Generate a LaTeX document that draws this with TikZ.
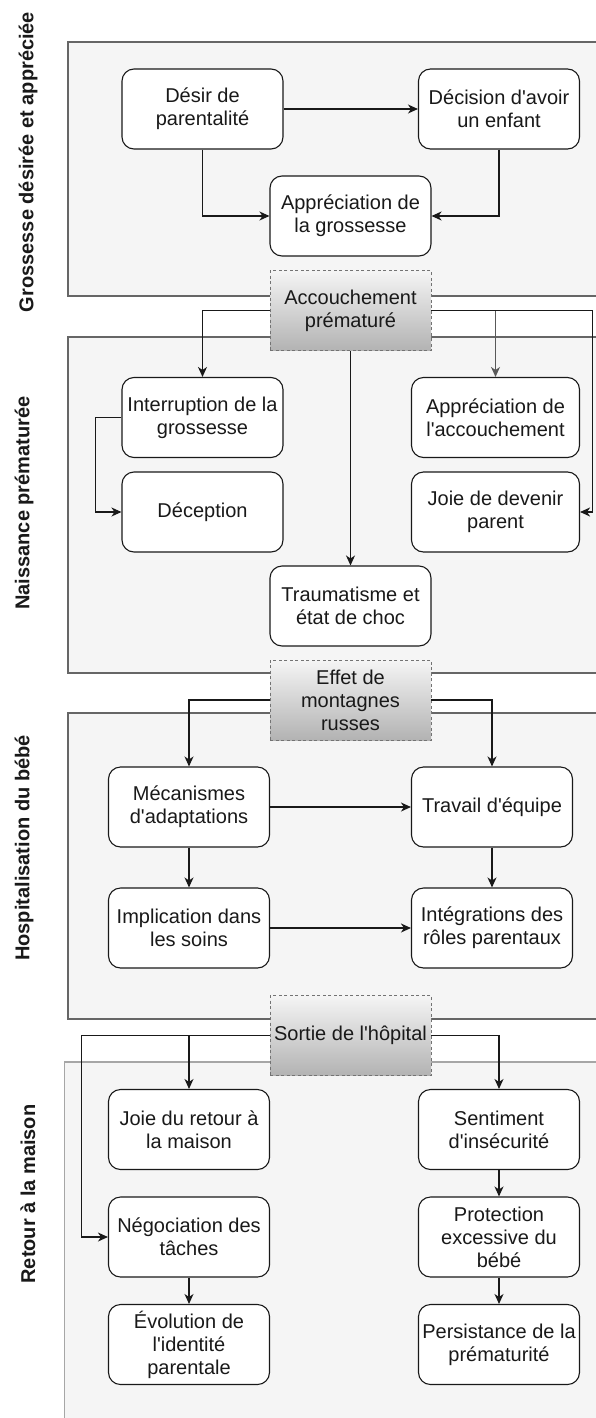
\documentclass[tikz,border=0pt]{standalone}
\usepackage{fontspec}
\setmainfont{Liberation Sans}
\newfontfamily\lsans{Liberation Sans}
\usetikzlibrary{arrows.meta}
\begin{document}
\begin{tikzpicture}[x=1pt,y=-1pt,
  box/.style={draw=black!90, line width=1.1pt, fill=white, rounded corners=12pt,
    minimum width=161pt, minimum height=80pt, align=center, inner sep=2pt,
    font=\lsans\fontsize{20}{23}\selectfont, text=black!90},
  wbox/.style={box, minimum width=168pt},
  gate/.style={draw=black!55, dash pattern=on 3pt off 2.5pt, line width=0.9pt,
    top color=black!4, bottom color=black!30, minimum width=161pt, minimum height=80pt,
    align=center, inner sep=1pt, font=\lsans\fontsize{20}{23}\selectfont, text=black!90},
  lane/.style={draw=black!60, line width=1.1pt, fill=black!4},
  lanelabel/.style={rotate=90, font=\lsans\bfseries\fontsize{20}{24}\selectfont, text=black!90, inner sep=0pt},
  conn/.style={draw=black!90, line width=1.2pt, -{Stealth[length=10pt,width=9pt,inset=3pt]}},
]
\useasboundingbox (0,0) rectangle (596,1418);
\fill[white] (0,0) rectangle (596,1418);

% lanes
\draw[lane] (68,42) rectangle (620,296);
\draw[lane] (68,337) rectangle (620,673);
\draw[lane] (68,713) rectangle (620,1019);
\draw[lane, draw=black!35, line width=1.6pt] (64.5,1062) rectangle (620,1440);

% lane labels
\node[lanelabel] (l1) at (28,162) {Grossesse désirée et appréciée};
\node[lanelabel] (l2) at (24,503) {Naissance prématurée};
\node[lanelabel] (l3) at (24,848) {Hospitalisation du bébé};
\node[lanelabel] (l4) at (28,1194) {Retour à la maison};

% lane 1
\node[box] (desir) at (202.5,109) {Désir de\\parentalité};
\node[box] (decision) at (499,109) {Décision d'avoir\\un enfant};
\node[box] (apprG) at (350.5,216) {Appréciation de\\la grossesse};
\node[gate] (accouch) at (350.5,310.5) {Accouchement\\prématuré};

% lane 2
\node[box] (interr) at (202.5,417.5) {Interruption de la\\grossesse};
\node[box] (decep) at (202.5,512) {Déception};
\node[wbox] (apprA) at (495.5,417.5) {Appréciation de\\l'accouchement};
\node[wbox] (joie) at (495.5,512) {Joie de devenir\\parent};
\node[box] (trauma) at (350.5,606) {Traumatisme et\\état de choc};
\node[gate] (effet) at (350.5,700) {Effet de\\montagnes\\russes};

% lane 3
\node[box] (meca) at (189,807) {Mécanismes\\d'adaptations};
\node[box] (travail) at (492,807) {Travail d'équipe};
\node[box] (impl) at (189,928) {Implication dans\\les soins};
\node[box] (integ) at (492,928) {Intégrations des\\rôles parentaux};
\node[gate] (sortie) at (350.5,1035.5) {Sortie de l'hôpital};

% lane 4
\node[box] (joieR) at (189,1129.5) {Joie du retour à\\la maison};
\node[box] (nego) at (189,1237) {Négociation des\\tâches};
\node[box] (evol) at (189,1344.5) {Évolution de\\l'identité\\parentale};
\node[box] (sent) at (499,1129.5) {Sentiment\\d'insécurité};
\node[box] (prot) at (499,1237) {Protection\\excessive du\\bébé};
\node[box] (pers) at (499,1344.5) {Persistance de la\\prématurité};

% connectors lane 1
\draw[conn] (desir.east) -- (decision.west);
\draw[conn] (desir.south) |- (apprG.west);
\draw[conn] (decision.south) |- (apprG.east);

% connectors from Accouchement
\coordinate (jr) at (592.5,310.5);
\draw[conn, draw=black!65] (accouch.east) -| (apprA.north);
\draw[conn] (accouch.east) -- (jr) |- (joie.east);
\draw[conn] (accouch.west) -| (interr.north);
\draw[conn] (accouch.south) -- (trauma.north);
\draw[conn] (interr.west) -- ++(-26,0) |- (decep.west);

% connectors lane 3
\draw[conn] (effet.west) -| (meca.north);
\draw[conn] (effet.east) -| (travail.north);
\draw[conn] (meca.east) -- (travail.west);
\draw[conn] (meca.south) -- (impl.north);
\draw[conn] (travail.south) -- (integ.north);
\draw[conn] (impl.east) -- (integ.west);

% connectors lane 4
\coordinate (sl) at (81.5,1035.5);
\draw[conn] (sortie.west) -| (joieR.north);
\draw[conn] (sortie.west) -- (sl) |- (nego.west);
\draw[conn] (sortie.east) -| (sent.north);
\draw[conn] (nego.south) -- (evol.north);
\draw[conn] (sent.south) -- (prot.north);
\draw[conn] (prot.south) -- (pers.north);
\end{tikzpicture}
\end{document}
